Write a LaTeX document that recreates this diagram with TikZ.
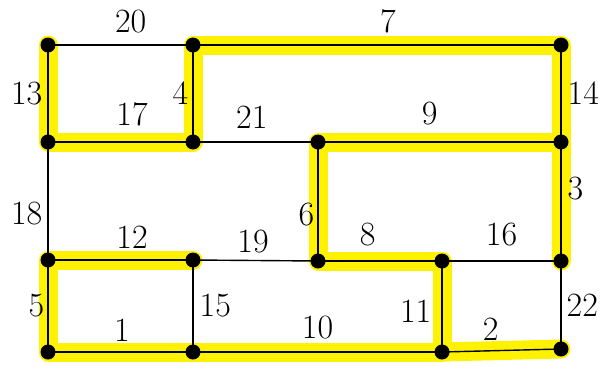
\documentclass[tikz,border=0pt]{standalone}
\usetikzlibrary{calc}
\tikzset{edge/.style={line width=1.4pt},mst/.style={yellow,line width=19pt,line cap=round,line join=round},lab/.style={font=\fontsize{34}{40}\selectfont,inner sep=0pt}}

\begin{document}
\begin{tikzpicture}[x=1pt,y=-1pt]
\useasboundingbox (0,0) rectangle (608,368);
\coordinate (A) at (48,45);\coordinate (B) at (193,45);\coordinate (C) at (561,45);
\coordinate (D) at (48,142);\coordinate (E) at (193,142);\coordinate (F) at (318,142);\coordinate (G) at (561,142);
\coordinate (H) at (48,260);\coordinate (I) at (193,260);\coordinate (J) at (318,261);\coordinate (K) at (442,261);\coordinate (L) at (561,261);
\coordinate (M) at (48,352);\coordinate (N) at (193,352);\coordinate (O) at (442,352);\coordinate (P) at (561,349);
% spanning tree highlight
\draw[mst] (A)--(D)--(E)--(B)--(C)--(G)--(F)--(J)--(K)--(O)--(N)--(M)--(H)--(I);
\draw[mst] (G)--(L);\draw[mst] (O)--(P);
% edges
\draw[edge] (A) -- node[lab,pos=.57,above=11pt]{20} (B);\draw[edge] (B) -- node[lab,pos=.53,above=11pt]{7} (C);
\draw[edge] (A) -- node[lab,left=5pt]{13} (D);\draw[edge] (B) -- node[lab,left=4pt]{4} (E);\draw[edge] (C) -- node[lab,right=6pt]{14} (G);
\draw[edge] (D) -- node[lab,pos=.58,above=15pt]{17} (E);\draw[edge] (E) -- node[lab,pos=.47,above=13pt]{21} (F);\draw[edge] (F) -- node[lab,pos=.46,above=16pt]{9} (G);
\draw[edge] (D) -- node[lab,pos=.61,left=5pt]{18} (H);\draw[edge] (F) -- node[lab,pos=.61,left=3pt]{6} (J);\draw[edge] (G) -- node[lab,pos=.39,right=6pt]{3} (L);
\draw[edge] (H) -- node[lab,pos=.58,above=11pt]{12} (I);\draw[edge] (I) -- node[lab,pos=.48,above=7pt]{19} (J);\draw[edge] (J) -- node[lab,pos=.4,above=14pt]{8} (K);\draw[edge] (K) -- node[lab,pos=.5,above=14pt]{16} (L);
\draw[edge] (H) -- node[lab,left=3pt]{5} (M);\draw[edge] (I) -- node[lab,right=6pt]{15} (N);\draw[edge] (K) -- node[lab,pos=.55,left=10pt]{11} (O);\draw[edge] (L) -- node[lab,right=5pt]{22} (P);
\draw[edge] (M) -- node[lab,pos=.51,above=10pt]{1} (N);\draw[edge] (N) -- node[lab,above=12pt]{10} (O);\draw[edge] (O) -- node[lab,pos=.41,above=10pt]{2} (P);
% vertices
\foreach \v in {A,...,P} \fill (\v) circle (7.5pt);
\end{tikzpicture}
\end{document}
